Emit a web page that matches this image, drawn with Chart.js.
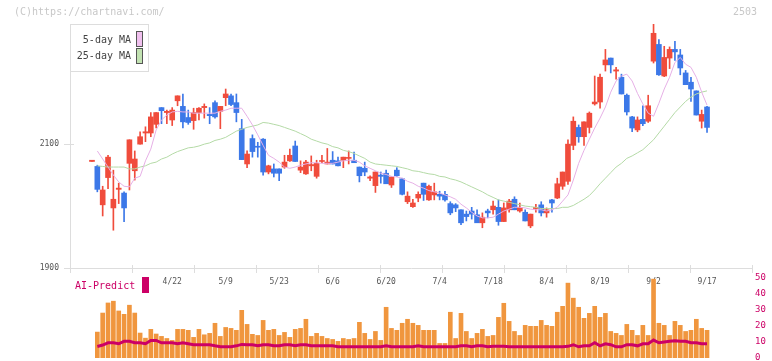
<!DOCTYPE html>
<html>
<head>
<meta charset="utf-8">
<script src="https://cdn.jsdelivr.net/npm/chart.js@4.4.1/dist/chart.umd.min.js"></script>
<style>
html, body { margin: 0; padding: 0; background: #fff; }
#wrap { position: relative; width: 772px; height: 361px; overflow: hidden; }
#price { position: absolute; left: 0; top: 0; }
#ai { position: absolute; left: 0; top: 270px; }
</style>
</head>
<body>
<div id="wrap">
  <canvas id="price" width="772" height="300"></canvas>
  <canvas id="ai" width="772" height="96"></canvas>
</div>
<script>
// daily candles 2025/4/1 .. 9/17, index 0..115
const dateLabels = ["4/22", "5/9", "5/23", "6/6", "6/20", "7/4", "7/18", "8/4", "8/19", "9/2", "9/17"];
const dateIndex = [15, 25, 35, 45, 55, 65, 75, 85, 95, 105, 115];
const priceTicks = [1900, 2100];

const open = [2072, 2064, 2002, 2046, 1997, 2027, 2021, 2069, 2057, 2100, 2118, 2118, 2132, 2159, 2151, 2139, 2170, 2161, 2143, 2138,
  2151, 2159, 2148, 2167, 2153, 2175, 2178, 2167, 2125, 2068, 2109, 2096, 2108, 2055, 2060, 2060, 2063, 2073, 2097, 2058,
  2052, 2065, 2048, 2072, 2068, 2074, 2073, 2074, 2077, 2074, 2063, 2061, 2045, 2033, 2050, 2053, 2034, 2058, 2044, 2007,
  1999, 2013, 2037, 2010, 2018, 2019, 2019, 2004, 2002, 1994, 1987, 1992, 1986, 1973, 1992, 1994, 1998, 1975, 1994, 2011,
  1992, 1990, 1968, 1996, 2002, 1989, 2010, 2013, 2032, 2040, 2098, 2127, 2112, 2127, 2165, 2168, 2228, 2239, 2218, 2208,
  2179, 2144, 2123, 2140, 2137, 2234, 2261, 2210, 2239, 2253, 2244, 2215, 2200, 2186, 2137, 2160];
const high = [2074, 2066, 2032, 2082, 2058, 2037, 2023, 2107, 2089, 2120, 2128, 2151, 2151, 2159, 2155, 2159, 2178, 2181, 2155, 2158,
  2159, 2165, 2159, 2170, 2161, 2189, 2181, 2181, 2140, 2089, 2115, 2103, 2109, 2066, 2068, 2060, 2082, 2092, 2105, 2073,
  2074, 2081, 2074, 2082, 2093, 2088, 2079, 2079, 2089, 2087, 2063, 2071, 2049, 2055, 2055, 2058, 2047, 2062, 2045, 2023,
  2011, 2023, 2037, 2034, 2037, 2024, 2024, 2007, 2004, 1994, 1992, 1998, 1994, 1989, 1995, 2008, 2010, 2005, 2011, 2015,
  2005, 1994, 1987, 2003, 2007, 1997, 2011, 2045, 2055, 2107, 2144, 2131, 2136, 2152, 2210, 2213, 2253, 2239, 2224, 2213,
  2181, 2145, 2144, 2162, 2179, 2294, 2269, 2258, 2257, 2266, 2253, 2219, 2208, 2186, 2155, 2161];
const low = [2072, 2023, 1984, 2028, 1961, 2004, 1975, 2026, 2042, 2100, 2104, 2112, 2126, 2133, 2133, 2130, 2162, 2126, 2132, 2124,
  2139, 2142, 2133, 2142, 2125, 2162, 2162, 2136, 2075, 2062, 2079, 2079, 2050, 2052, 2047, 2041, 2061, 2072, 2072, 2054,
  2051, 2057, 2045, 2070, 2068, 2068, 2065, 2062, 2068, 2070, 2039, 2049, 2041, 2022, 2037, 2036, 2030, 2048, 2018, 2004,
  1998, 2007, 2009, 2009, 2010, 2010, 2008, 1986, 1991, 1970, 1976, 1979, 1973, 1965, 1981, 1987, 1969, 1975, 1990, 1994,
  1990, 1976, 1965, 1990, 1984, 1982, 1990, 2012, 2027, 2035, 2091, 2103, 2098, 2118, 2163, 2158, 2218, 2215, 2205, 2181,
  2147, 2120, 2120, 2130, 2135, 2231, 2211, 2209, 2222, 2235, 2212, 2196, 2169, 2147, 2126, 2119];
const close = [2074, 2027, 2026, 2079, 2011, 2029, 1997, 2107, 2076, 2112, 2120, 2144, 2151, 2154, 2153, 2155, 2178, 2136, 2135, 2151,
  2158, 2161, 2146, 2144, 2161, 2181, 2164, 2151, 2075, 2084, 2088, 2095, 2055, 2065, 2053, 2053, 2071, 2082, 2072, 2063,
  2071, 2067, 2069, 2073, 2071, 2068, 2065, 2079, 2078, 2070, 2049, 2055, 2047, 2055, 2048, 2036, 2047, 2049, 2019, 2016,
  2005, 2019, 2019, 2032, 2023, 2016, 2010, 1989, 1997, 1973, 1983, 1987, 1973, 1982, 1989, 2000, 1975, 1997, 2008, 1994,
  1998, 1976, 1987, 1998, 1989, 1994, 2005, 2036, 2055, 2100, 2137, 2112, 2136, 2150, 2168, 2208, 2236, 2228, 2220, 2181,
  2152, 2126, 2139, 2133, 2162, 2279, 2212, 2240, 2253, 2249, 2223, 2196, 2189, 2147, 2148, 2127];

const ma5 = [null, 2089, 2076, 2063, 2050, 2039, 2032, 2031, 2045, 2048, 2073, 2092, 2123, 2139, 2147, 2152, 2153, 2152, 2152, 2150,
  2150, 2150, 2150, 2150, 2153, 2155, 2158, 2158, 2158, 2145, 2131, 2115, 2098, 2082, 2077, 2071, 2063, 2061, 2063, 2066,
  2068, 2070, 2070, 2069, 2069, 2069, 2071, 2073, 2074, 2074, 2071, 2065, 2061, 2057, 2053, 2051, 2048, 2047, 2045, 2040,
  2037, 2032, 2029, 2025, 2023, 2021, 2018, 2015, 2011, 2003, 1997, 1990, 1984, 1981, 1981, 1982, 1987, 1992, 1995, 1998,
  1998, 1997, 1995, 1994, 1994, 1992, 1994, 1998, 2008, 2018, 2042, 2069, 2090, 2108, 2126, 2142, 2160, 2184, 2202, 2210,
  2213, 2202, 2182, 2165, 2150, 2145, 2166, 2189, 2208, 2232, 2240, 2229, 2224, 2208, 2184, 2163];
const ma25 = [null, 2065, 2064, 2063, 2063, 2063, 2063, 2060, 2060, 2063, 2065, 2069, 2071, 2076, 2079, 2084, 2088, 2091, 2094, 2095,
  2097, 2100, 2102, 2106, 2108, 2111, 2116, 2121, 2124, 2127, 2129, 2131, 2135, 2134, 2132, 2130, 2127, 2124, 2121, 2117,
  2113, 2108, 2105, 2102, 2100, 2096, 2094, 2090, 2088, 2085, 2081, 2077, 2071, 2068, 2067, 2066, 2065, 2064, 2062, 2060,
  2057, 2056, 2054, 2052, 2051, 2048, 2047, 2044, 2042, 2039, 2035, 2031, 2027, 2023, 2018, 2014, 2010, 2008, 2006, 2004,
  2002, 2000, 1999, 1998, 1996, 1996, 1996, 1996, 1998, 1998, 2001, 2006, 2011, 2017, 2026, 2036, 2045, 2054, 2063, 2069,
  2077, 2081, 2086, 2091, 2099, 2107, 2118, 2129, 2140, 2151, 2160, 2169, 2176, 2181, 2184, 2186];

// AI-Predict panel
const aiBars = [null, 16.2, 28.1, 34.4, 35.5, 29.4, 27.3, 33.0, 28.1, 15.6, 12.4, 17.9, 15.0, 13.5, 12.2, 11.0, 17.9, 17.9, 17.3, 12.9,
  17.9, 14.5, 15.4, 21.7, 13.5, 19.1, 18.5, 17.3, 29.8, 21.0, 14.8, 14.1, 23.5, 17.3, 17.9, 14.1, 16.0, 12.9, 17.9, 18.5,
  24.2, 13.5, 15.4, 13.5, 12.2, 11.6, 10.4, 12.2, 11.6, 12.2, 22.3, 15.4, 11.6, 16.6, 11.0, 31.7, 18.5, 17.3, 21.7, 24.2,
  21.7, 20.4, 17.3, 17.3, 17.3, 9.1, 9.1, 28.6, 12.2, 27.9, 16.6, 12.2, 15.4, 17.9, 13.5, 14.1, 25.4, 34.2, 22.9, 16.6,
  14.1, 20.4, 19.8, 19.8, 23.5, 20.4, 19.8, 28.6, 32.3, 46.8, 37.4, 31.7, 24.8, 27.9, 32.3, 25.4, 27.9, 16.6, 15.4, 14.1,
  21.0, 17.3, 14.1, 20.4, 14.1, 49.3, 21.7, 20.4, 14.1, 22.9, 20.4, 16.6, 17.3, 24.2, 18.5, 17.3];
const aiLine = [null, 7.2, 8.1, 9.5, 9.5, 8.9, 10.4, 10.4, 9.5, 9.5, 8.9, 11.0, 11.0, 9.5, 9.5, 9.5, 8.9, 9.5, 8.9, 8.3,
  8.3, 8.3, 8.3, 7.6, 7.0, 7.0, 7.0, 7.6, 8.5, 8.3, 8.3, 7.6, 8.3, 8.3, 7.6, 7.6, 8.3, 8.3, 7.6, 8.3,
  8.3, 7.6, 7.6, 7.6, 7.6, 7.6, 7.0, 7.0, 7.0, 7.0, 7.0, 7.0, 7.0, 7.0, 7.0, 7.6, 7.0, 7.0, 7.0, 7.0,
  7.0, 7.6, 7.0, 7.0, 7.0, 7.0, 7.0, 7.0, 7.0, 7.6, 7.6, 7.0, 7.6, 7.6, 7.0, 7.3, 7.3, 7.3, 7.0, 7.0,
  7.0, 7.0, 7.0, 7.0, 7.0, 7.0, 7.0, 7.0, 7.0, 7.3, 8.3, 7.0, 7.6, 7.6, 9.5, 7.6, 8.9, 8.3, 7.0, 7.0,
  8.3, 8.3, 7.6, 8.9, 8.9, 11.2, 9.5, 10.0, 10.4, 10.8, 10.4, 10.4, 9.5, 9.5, 8.9, 8.9];
const aiTicks = [0, 10, 20, 30, 40, 50];

const X_MIN = -4.11, X_MAX = 123.41;
const UP = "#f04c3c", DOWN = "#3c78e8";
const AXIS = "#dddddd";
const MONO = "'DejaVu Sans Mono', 'Liberation Mono', monospace";

const idx = close.map((c, i) => i);
const candleColor = ctx => close[ctx.dataIndex] >= open[ctx.dataIndex] ? UP : DOWN;
// even tick marks along the date axis (not tied to dates)
const marks = [];
for (let k = 0; k <= 11; k++) marks.push(X_MIN + k * (X_MAX - X_MIN) / 11);
const xTicks = marks.concat(dateIndex).sort((a, b) => a - b);

const overlay = {
  id: "overlay",
  afterDraw(chart) {
    const c = chart.ctx;
    const xs = chart.scales.x, ys = chart.scales.y;
    c.save();
    // tick marks poke a little into the plot
    c.strokeStyle = AXIS;
    c.lineWidth = 1;
    c.beginPath();
    marks.forEach(v => {
      const px = Math.round(xs.getPixelForValue(v)) + 0.5;
      c.moveTo(px, ys.bottom - 3);
      c.lineTo(px, ys.bottom);
    });
    priceTicks.forEach(v => {
      const py = Math.round(ys.getPixelForValue(v)) + 0.5;
      c.moveTo(xs.left, py);
      c.lineTo(xs.left + 4, py);
    });
    c.stroke();

    c.font = "10px " + MONO;
    c.textBaseline = "middle";
    c.fillStyle = "#c8c8c8";
    c.textAlign = "left";
    c.fillText("(C)https://chartnavi.com/", 14, 12);
    c.textAlign = "right";
    c.fillText("2503", 757, 12);
    // legend box
    c.fillStyle = "#fff";
    c.fillRect(71, 25, 77, 46);
    c.strokeStyle = AXIS;
    c.strokeRect(70.5, 24.5, 78, 47);
    c.fillStyle = "#444";
    c.fillText("5-day MA", 131, 40);
    c.fillText("25-day MA", 131, 56);
    c.strokeStyle = "#555";
    c.fillStyle = "#f0c0ee";
    c.fillRect(136.5, 31.5, 6, 15);
    c.strokeRect(136.5, 31.5, 6, 15);
    c.fillStyle = "#c2e2b2";
    c.fillRect(136.5, 48.5, 6, 15);
    c.strokeRect(136.5, 48.5, 6, 15);
    c.restore();
  }
};

new Chart(document.getElementById("price"), {
  type: "bar",
  data: {
    datasets: [
      {
        type: "line", label: "5-day MA", order: 0,
        data: idx.map(i => ({ x: i, y: ma5[i] })),
        borderColor: "#e6b0e6", borderWidth: 1, pointRadius: 0, tension: 0
      },
      {
        type: "line", label: "25-day MA", order: 0,
        data: idx.map(i => ({ x: i, y: ma25[i] })),
        borderColor: "#b4daa6", borderWidth: 1, pointRadius: 0, tension: 0
      },
      {
        label: "wick", order: 2, grouped: false,
        data: idx.map(i => ({ x: i, y: [low[i], high[i]] })),
        backgroundColor: candleColor, barThickness: 1, minBarLength: 1
      },
      {
        label: "body", order: 1, grouped: false,
        data: idx.map(i => ({ x: i, y: [open[i], close[i]] })),
        backgroundColor: candleColor, barThickness: 5, minBarLength: 1
      }
    ]
  },
  options: {
    responsive: false,
    animation: false,
    events: [],
    layout: { padding: { top: 24, right: 20, left: 0, bottom: 0 } },
    plugins: { legend: { display: false }, tooltip: { enabled: false } },
    scales: {
      x: {
        type: "linear", min: X_MIN, max: X_MAX, offset: false,
        afterBuildTicks: s => { s.ticks = xTicks.map(v => ({ value: v })); },
        afterFit: s => { s.height = 32; },
        ticks: {
          autoSkip: false, maxRotation: 0, padding: 4, color: "#555",
          font: { family: MONO, size: 8 },
          callback: v => {
            const k = dateIndex.indexOf(v);
            return k >= 0 ? dateLabels[k] : "";
          }
        },
        grid: {
          offset: false, drawOnChartArea: false, tickLength: 5,
          color: ctx => (ctx.tick && dateIndex.indexOf(ctx.tick.value) >= 0) ? "rgba(0,0,0,0)" : AXIS
        },
        border: { color: AXIS }
      },
      y: {
        min: 1900, max: 2294,
        afterBuildTicks: s => { s.ticks = priceTicks.map(v => ({ value: v })); },
        afterFit: s => { s.width = 70; },
        ticks: { padding: 5, color: "#555", font: { family: MONO, size: 8 }, callback: v => String(v) },
        grid: { drawOnChartArea: false, tickLength: 6, color: AXIS },
        border: { color: AXIS }
      }
    }
  },
  plugins: [overlay]
});

const aiLabel = {
  id: "aiLabel",
  afterDraw(chart) {
    const c = chart.ctx;
    c.save();
    c.fillStyle = "#cc0066";
    c.font = "10px " + MONO;
    c.textBaseline = "middle";
    c.textAlign = "left";
    c.fillText("AI-Predict", 75, 16);
    c.fillRect(142, 7, 7, 16);
    c.restore();
  }
};

new Chart(document.getElementById("ai"), {
  type: "bar",
  data: {
    datasets: [
      {
        type: "line", order: 0,
        data: idx.map(i => ({ x: i, y: aiLine[i] })),
        borderColor: "#cc0066", borderWidth: 3, pointRadius: 0, tension: 0
      },
      {
        order: 1,
        data: idx.map(i => ({ x: i, y: aiBars[i] })),
        backgroundColor: "#f0963e", barThickness: 4
      }
    ]
  },
  options: {
    responsive: false,
    animation: false,
    events: [],
    layout: { padding: { top: 8, right: 0, left: 70, bottom: 8 } },
    plugins: { legend: { display: false }, tooltip: { enabled: false } },
    scales: {
      x: { type: "linear", min: X_MIN, max: X_MAX, offset: false, display: false },
      y: {
        position: "right", min: 0, max: 50,
        afterBuildTicks: s => { s.ticks = aiTicks.map(v => ({ value: v })); },
        afterFit: s => { s.width = 20; },
        ticks: { padding: 3, color: "#cc0066", font: { family: MONO, size: 9, lineHeight: 1 } },
        grid: { display: false, drawTicks: false },
        border: { display: false }
      }
    }
  },
  plugins: [aiLabel]
});
</script>
</body>
</html>
